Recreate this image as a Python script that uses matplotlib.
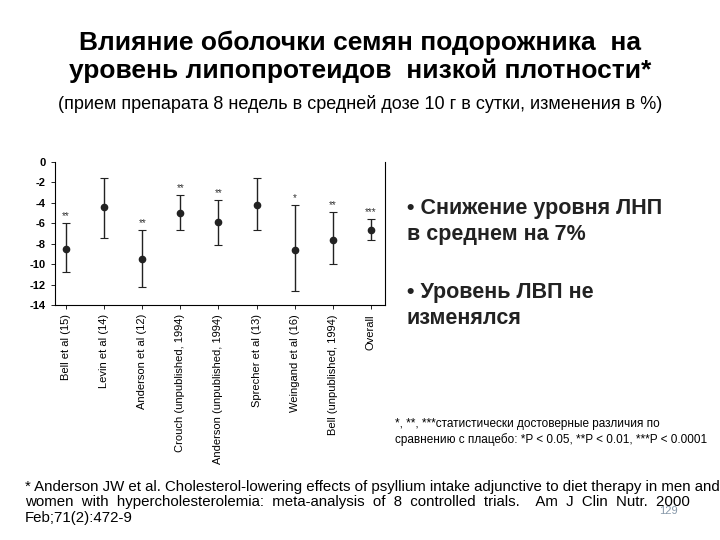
import matplotlib
matplotlib.use("Agg")
import matplotlib.pyplot as plt

plt.rcParams['font.family'] = ['Liberation Sans', 'DejaVu Sans']

studies = ['Bell et al (15)', 'Levin et al (14)', 'Anderson et al (12)',
           'Crouch (unpublished, 1994)', 'Anderson (unpublished, 1994)',
           'Sprecher et al (13)', 'Weingand et al (16)', 'Bell (unpublished, 1994)',
           'Overall']
means = [-8.5, -4.4, -9.5, -5.0, -5.9, -4.2, -8.6, -7.6, -6.7]
lows = [-10.8, -7.4, -12.2, -6.7, -8.1, -6.7, -12.6, -10.0, -7.6]
highs = [-6.0, -1.6, -6.7, -3.2, -3.7, -1.6, -4.2, -4.9, -5.6]
stars = ['**', '', '**', '**', '**', '', '*', '**', '***']

fig = plt.figure(figsize=(7.2, 5.4), dpi=100)

fig.text(0.5, 0.895, 'Влияние оболочки семян подорожника  на\nуровень липопротеидов  низкой плотности*',
         ha='center', va='center', fontsize=19, fontweight='bold', linespacing=1.2)
fig.text(0.5, 0.808, '(прием препарата 8 недель в средней дозе 10 г в сутки, изменения в %)',
         ha='center', va='center', fontsize=13)

ax = fig.add_axes([55 / 720, 1 - 305 / 540, 330 / 720, 143 / 540])
x = list(range(len(studies)))
yerr = [[m - l for m, l in zip(means, lows)], [h - m for m, h in zip(means, highs)]]
ax.errorbar(x, means, yerr=yerr, fmt='o', color='#222222', ms=4.5,
            elinewidth=1.0, capsize=3, capthick=0.8)
for xi, h, s in zip(x, highs, stars):
    ax.text(xi, h + 0.2, s, ha='center', va='bottom', fontsize=7, color='#333333')
ax.set_xlim(-0.29, 8.37)
ax.set_ylim(-14, 0)
ax.set_yticks(range(-14, 1, 2))
ax.set_yticklabels([str(v) for v in range(-14, 1, 2)], fontsize=8, fontweight='bold')
ax.set_xticks(x)
ax.set_xticklabels(studies, rotation=90, fontsize=8)
ax.spines['top'].set_visible(False)
ax.tick_params(length=3, width=0.6)

fig.text(0.565, 0.59, '• Снижение уровня ЛНП\nв среднем на 7%', ha='left', va='center',
         fontsize=15.5, fontweight='bold', color='#222222', linespacing=1.3)
fig.text(0.565, 0.435, '• Уровень ЛВП не\nизменялся', ha='left', va='center',
         fontsize=15.5, fontweight='bold', color='#222222', linespacing=1.3)
fig.text(0.548, 0.2, '*, **, ***статистически достоверные различия по\nсравнению с плацебо: *P < 0.05, **P < 0.01, ***P < 0.0001',
         ha='left', va='center', fontsize=8.5, linespacing=1.4)
fig.text(0.035, 0.07, '* Anderson JW et al. Cholesterol-lowering effects of psyllium intake adjunctive to diet therapy in men and\n'
         'women  with  hypercholesterolemia:  meta-analysis  of  8  controlled  trials.    Am  J  Clin  Nutr.  2000\n'
         'Feb;71(2):472-9', ha='left', va='center', fontsize=10.8, linespacing=1.15)
fig.text(0.928, 0.053, '129', ha='center', va='center', fontsize=8, color='#8899aa')

fig.savefig('out.png', dpi=100)
